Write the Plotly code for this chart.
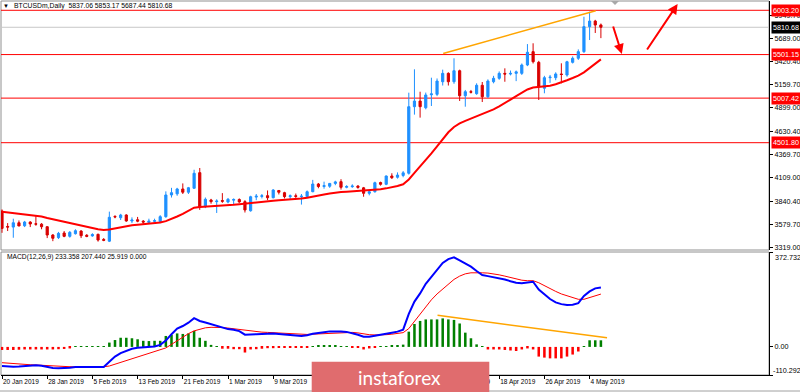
import pandas as pd
import plotly.graph_objects as go

# ---------------- data ----------------
symbol_header = "BTCUSDm,Daily  5837.06 5853.17 5687.44 5810.68"
macd_header = "MACD(12,26,9) 233.358 207.440 25.919 0.000"
start_date = "2019-01-20"

opens = [3727, 3552, 3545, 3594, 3560, 3602, 3582, 3578, 3549, 3455,
         3425, 3478, 3440, 3470, 3500, 3452, 3445, 3463, 3405, 3385,
         3665, 3651, 3682, 3614, 3628, 3612, 3598, 3610, 3606, 3663,
         3909, 3922, 3977, 3940, 3985, 4162, 3776, 3852, 3833, 3845,
         3829, 3850, 3858, 3833, 3730, 3885, 3893, 3901, 3878, 3960,
         3935, 3890, 3900, 3888, 3890, 3946, 4033, 4005, 4008, 4040,
         4060, 3996, 4003, 4010, 3990, 3928, 3946, 4050, 4030, 4124,
         4110, 4130, 4155, 4910, 4974, 4898, 5045, 5050, 5193, 5288,
         5193, 5318, 5034, 5080, 5058, 5153, 5023, 5193, 5232, 5288,
         5280, 5288, 5288, 5383, 5534, 5413, 5119, 5239, 5239, 5281,
         5269, 5413, 5459, 5534, 5818, 5881, 5837.06]
highs = [3745, 3590, 3640, 3620, 3615, 3612, 3670, 3590, 3555, 3465,
         3490, 3500, 3500, 3520, 3510, 3465, 3475, 3470, 3420, 3720,
         3680, 3695, 3690, 3655, 3660, 3625, 3640, 3640, 3680, 3950,
         3990, 3990, 4040, 4000, 4195, 4215, 3880, 3865, 3860, 3930,
         3875, 3870, 3870, 3850, 3900, 3920, 3920, 3960, 3975, 3965,
         3945, 3915, 3925, 3920, 3960, 4080, 4045, 4060, 4045, 4070,
         4088, 4020, 4030, 4020, 4000, 3960, 4060, 4060, 4130, 4155,
         4165, 4180, 5069, 5334, 5080, 5070, 5239, 5230, 5330, 5300,
         5459, 5330, 5100, 5100, 5175, 5190, 5220, 5260, 5310, 5345,
         5320, 5320, 5400, 5620, 5629, 5430, 5260, 5270, 5300, 5402,
         5430, 5480, 5560, 5930, 5987, 5895, 5853.17]
lows = [3480, 3500, 3424, 3560, 3545, 3545, 3560, 3520, 3420, 3385,
        3410, 3430, 3425, 3460, 3420, 3430, 3435, 3380, 3385, 3375,
        3645, 3625, 3605, 3590, 3600, 3580, 3585, 3600, 3590, 3650,
        3880, 3900, 3920, 3920, 3980, 3740, 3760, 3810, 3705, 3820,
        3815, 3805, 3820, 3710, 3720, 3850, 3870, 3850, 3870, 3915,
        3870, 3860, 3875, 3800, 3880, 3940, 3985, 3980, 3990, 4020,
        3970, 3985, 3990, 3980, 3889, 3905, 3935, 4015, 4020, 4090,
        4095, 4110, 4140, 4820, 4786, 4880, 4918, 5030, 5150, 5150,
        5170, 4975, 4910, 5060, 5045, 4963, 5010, 5175, 5215, 5193,
        5265, 5200, 5270, 5370, 5400, 4986, 5062, 5180, 5210, 5175,
        5250, 5400, 5440, 5520, 5666, 5746, 5687.44]
closes = [3530, 3545, 3594, 3557, 3602, 3580, 3578, 3549, 3455, 3418,
          3474, 3440, 3485, 3504, 3447, 3440, 3460, 3398, 3395, 3656,
          3660, 3682, 3614, 3625, 3612, 3602, 3613, 3618, 3663, 3909,
          3935, 3977, 3940, 3991, 4155, 3769, 3860, 3833, 3840, 3838,
          3860, 3858, 3830, 3739, 3889, 3895, 3900, 3878, 3965, 3940,
          3890, 3900, 3893, 3895, 3946, 4033, 4005, 4015, 4040, 4057,
          3996, 4005, 4010, 3995, 3928, 3945, 4048, 4030, 4124, 4105,
          4135, 4160, 4910, 4974, 4910, 5043, 5055, 5201, 5288, 5193,
          5318, 5034, 5080, 5075, 5153, 5023, 5201, 5232, 5288, 5280,
          5288, 5305, 5383, 5527, 5420, 5137, 5239, 5245, 5281, 5275,
          5420, 5459, 5534, 5818, 5881, 5836, 5810.68]
moving_avg = [3719, 3712, 3706, 3700, 3693, 3685, 3677, 3665, 3648, 3635,
              3620, 3605, 3592, 3580, 3565, 3550, 3535, 3520, 3512, 3518,
              3530, 3545, 3558, 3566, 3572, 3577, 3582, 3587, 3596, 3612,
              3635, 3665, 3695, 3730, 3765, 3772, 3776, 3778, 3780, 3783,
              3790, 3797, 3805, 3812, 3822, 3828, 3833, 3838, 3843, 3848,
              3852, 3855, 3860, 3868, 3878, 3892, 3905, 3915, 3925, 3935,
              3942, 3946, 3950, 3953, 3957, 3962, 3968, 3975, 3984, 3995,
              4010, 4030, 4085, 4160, 4230, 4300, 4380, 4460, 4545, 4620,
              4680, 4720, 4750, 4775, 4800, 4825, 4850, 4880, 4915, 4950,
              4990, 5030, 5070, 5105, 5128, 5137, 5142, 5147, 5165, 5185,
              5210, 5235, 5262, 5300, 5350, 5405, 5447]
macd_main = [-75, -77, -78, -77, -76, -74, -72, -74, -80, -83,
             -84, -84, -82, -79, -79, -79, -78, -78, -79, -58,
             -38, -24, -15, -7, -3, -1, 0, 2, 8, 25,
             50, 72, 82, 95, 113, 102, 96, 89, 82, 74,
             70, 67, 62, 48, 48, 50, 51, 52, 53, 51,
             48, 46, 45, 43, 46, 52, 56, 58, 61, 62,
             61, 59, 55, 48, 40, 40, 44, 47, 52, 56,
             60, 68, 130, 178, 210, 248, 275, 305, 330, 345,
             352, 340, 328, 315, 298, 282, 278, 274, 270, 265,
             258, 252, 250, 252, 256, 225, 205, 188, 175, 168,
             165, 166, 172, 200, 218, 230, 233.358]
macd_signal = [-62, -64, -66, -68, -69, -70, -71, -72, -74, -76,
               -78, -79, -80, -80, -80, -79, -79, -79, -78, -75,
               -68, -60, -52, -44, -37, -30, -24, -18, -12, -4,
               10, 25, 40, 52, 63, 70, 75, 77, 77, 76,
               74, 71, 69, 65, 62, 60, 58, 57, 56, 54,
               52, 51, 50, 49, 49, 50, 51, 52, 54, 55,
               57, 57, 57, 55, 51, 48, 47, 47, 48, 50,
               52, 56, 72, 100, 130, 158, 185, 208, 228, 248,
               265, 278, 287, 291, 292, 291, 290, 287, 283, 278,
               272, 266, 262, 260, 260, 252, 240, 228, 218, 208,
               200, 193, 187, 187, 193, 202, 207.44]
macd_hist = [-12, -12, -12, -11, -10, -10, -10, -10, -10, -10,
             -9, -8, -6, 2, 2, 2, 2, 2, 2, 17,
             27, 36, 36, 34, 30, 24, 23, 24, 24, 43,
             47, 53, 51, 53, 63, 36, 24, 8, 2, -7,
             -7, -9, -9, -22, -10, -9, -7, -5, -5, -3,
             -3, -3, -3, -2, -2, 3, 4, 4, 5, 7,
             3, 2, -2, -3, -10, -6, -4, 2, 3, 4,
             5, 9, 60, 90, 102, 108, 108, 108, 112, 108,
             106, 92, 56, 34, 10, 2, -10, -10, -10, -12,
             -14, -16, -10, -6, -10, -38, -42, -45, -45, -45,
             -38, -30, -18, 3, 26, 26, 25.919]

tick_dates = ["2019-01-20", "2019-01-28", "2019-02-05", "2019-02-13", "2019-02-21",
              "2019-03-01", "2019-03-09", "2019-03-17", "2019-03-25", "2019-04-02",
              "2019-04-10", "2019-04-18", "2019-04-26", "2019-05-04"]
tick_labels = ["20 Jan 2019", "28 Jan 2019", "5 Feb 2019", "13 Feb 2019", "21 Feb 2019",
               "1 Mar 2019", "9 Mar 2019", "17 Mar 2019", "25 Mar 2019", "2 Apr 2019",
               "10 Apr 2019", "18 Apr 2019", "26 Apr 2019", "4 May 2019"]
price_ticks = [5949.70, 5689.00, 5420.40, 5159.70, 4899.00, 4630.40,
               4369.70, 4109.00, 3840.40, 3579.70, 3319.00]
level_lines = [6003.20, 5501.15, 5007.42, 4501.80]
macd_max = 372.732
macd_min = -110.292

trend_price_x = ["2019-04-08 02:00", "2019-05-05 02:00"]
trend_price_y = [5513, 5999]
trend_macd_x = ["2019-04-07 02:00", "2019-05-07 02:00"]
trend_macd_y = [124, 36]
arrow_down_x = ["2019-05-08 02:00", "2019-05-09 17:00"]
arrow_down_y = [5836, 5508]
arrow_up_x = ["2019-05-14 00:00", "2019-05-19 14:00"]
arrow_up_y = [5542, 6075]

# ---------------- layout helpers ----------------
W, H = 800, 392
FONT = "Liberation Sans, Arial, sans-serif"


def px(x):
    return x / W


def py(y):
    return 1 - y / H


dates = pd.date_range(start_date, periods=len(closes), freq="D")
t0 = pd.Timestamp(start_date)
bar_px = 5.65
x_left = t0 - pd.Timedelta(days=1 / bar_px)
x_right = t0 + pd.Timedelta(days=(769 - 2) / bar_px)

fig = go.Figure()
fig.add_trace(go.Candlestick(
    x=dates, open=opens, high=highs, low=lows, close=closes,
    increasing=dict(line=dict(color="#1E90FF", width=1), fillcolor="#1E90FF"),
    decreasing=dict(line=dict(color="#D80000", width=1), fillcolor="#D80000"),
    whiskerwidth=0, xaxis="x", yaxis="y", showlegend=False, hoverinfo="skip"))
fig.add_trace(go.Scatter(x=dates, y=moving_avg, mode="lines",
                         line=dict(color="#FF0000", width=2),
                         xaxis="x", yaxis="y", hoverinfo="skip"))
fig.add_trace(go.Bar(x=dates, y=macd_hist,
                     marker=dict(color=["#008000" if v > 0 else "#FF0000" for v in macd_hist],
                                 line=dict(width=0)),
                     width=0.45 * 86400000, xaxis="x", yaxis="y2", hoverinfo="skip"))
fig.add_trace(go.Scatter(x=dates, y=macd_signal, mode="lines",
                         line=dict(color="#FF0000", width=1),
                         xaxis="x", yaxis="y2", hoverinfo="skip"))
fig.add_trace(go.Scatter(x=dates, y=macd_main, mode="lines",
                         line=dict(color="#0000FF", width=2),
                         xaxis="x", yaxis="y2", hoverinfo="skip"))

price_dom = [py(250), py(1)]
macd_dom = [py(375), py(252)]
x_dom = [px(1), px(769)]

shapes = []
# panel frames
shapes.append(dict(type="rect", xref="paper", yref="paper", x0=x_dom[0], x1=x_dom[1],
                   y0=price_dom[0], y1=price_dom[1], line=dict(color="#909090", width=1), layer="below"))
shapes.append(dict(type="rect", xref="paper", yref="paper", x0=x_dom[0], x1=x_dom[1],
                   y0=macd_dom[0], y1=macd_dom[1], line=dict(color="#909090", width=1), layer="below"))
# level lines
for lv in level_lines:
    shapes.append(dict(type="line", xref="paper", yref="y", x0=x_dom[0], x1=x_dom[1],
                       y0=lv, y1=lv, line=dict(color="#FF0000", width=1), layer="below"))
# bid line
shapes.append(dict(type="line", xref="paper", yref="y", x0=x_dom[0], x1=x_dom[1],
                   y0=closes[-1], y1=closes[-1], line=dict(color="#C8C8C8", width=1), layer="below"))
# trend lines
shapes.append(dict(type="line", xref="x", yref="y", x0=trend_price_x[0], x1=trend_price_x[1],
                   y0=trend_price_y[0], y1=trend_price_y[1], line=dict(color="#FFA500", width=1.5)))
shapes.append(dict(type="line", xref="x", yref="y2", x0=trend_macd_x[0], x1=trend_macd_x[1],
                   y0=trend_macd_y[0], y1=trend_macd_y[1], line=dict(color="#FFA500", width=1.5)))
# chart shift marker
shapes.append(dict(type="path", xref="paper", yref="paper",
                   path=f"M {px(611)},{py(1)} L {px(619)},{py(1)} L {px(615)},{py(5)} Z",
                   fillcolor="#A8A8A8", line=dict(width=0)))
# bottom border line
shapes.append(dict(type="line", xref="paper", yref="paper", x0=0, x1=1, y0=py(391), y1=py(391),
                   line=dict(color="#A0A0A0", width=1)))
# logo box
shapes.append(dict(type="rect", xref="paper", yref="paper", x0=px(311.7), x1=px(489.3),
                   y0=py(392), y1=py(361.7), fillcolor="#E06C6E", line=dict(width=0), layer="above"))

ann = []
ann.append(dict(text="▼", xref="paper", yref="paper", x=px(6), y=py(6), showarrow=False,
                font=dict(family=FONT, size=6, color="black"), xanchor="center", yanchor="middle"))
ann.append(dict(text=symbol_header, xref="paper", yref="paper", x=px(12), y=py(6), showarrow=False,
                font=dict(family=FONT, size=6.8, color="black"), xanchor="left", yanchor="middle"))
ann.append(dict(text=macd_header, xref="paper", yref="paper", x=px(5), y=py(257), showarrow=False,
                font=dict(family=FONT, size=6.7, color="black"), xanchor="left", yanchor="middle"))
for lv in level_lines:
    ann.append(dict(text=f"{lv:.2f}", xref="paper", yref="y", x=px(770.5), y=lv, showarrow=False,
                    font=dict(family=FONT, size=7.2, color="white"), bgcolor="#FF0000",
                    borderpad=1, xanchor="left", yanchor="middle"))
ann.append(dict(text=f"{closes[-1]:.2f}", xref="paper", yref="y", x=px(770.5), y=closes[-1],
                showarrow=False, font=dict(family=FONT, size=7.2, color="white"), bgcolor="#000000",
                borderpad=1, xanchor="left", yanchor="middle"))
ann.append(dict(text=f"{macd_max:.3f}", xref="paper", yref="paper", x=px(773), y=py(257),
                showarrow=False, font=dict(family=FONT, size=7.2, color="black"),
                xanchor="left", yanchor="middle"))
ann.append(dict(text=f"{macd_min:.3f}", xref="paper", yref="paper", x=px(771), y=py(370),
                showarrow=False, font=dict(family=FONT, size=7.2, color="black"),
                xanchor="left", yanchor="middle"))
ann.append(dict(text="instaforex", xref="paper", yref="paper", x=px(399), y=py(377.5),
                showarrow=False, font=dict(family="Lato, Open Sans, sans-serif", size=19, color="white"),
                xanchor="center", yanchor="middle"))
for ax_, ay_ in [(arrow_down_x, arrow_down_y), (arrow_up_x, arrow_up_y)]:
    ann.append(dict(text="", x=ax_[1], y=ay_[1], xref="x", yref="y",
                    ax=ax_[0], ay=ay_[0], axref="x", ayref="y", showarrow=True,
                    arrowhead=2, arrowsize=1, arrowwidth=2, arrowcolor="#FF0000", standoff=0))

fig.update_layout(
    width=W, height=H, margin=dict(l=0, r=0, t=0, b=0, autoexpand=False),
    paper_bgcolor="white", plot_bgcolor="white", showlegend=False,
    boxgap=0.45,
    xaxis=dict(domain=x_dom, anchor="y2", type="date", range=[x_left, x_right],
               tickmode="array", tickvals=tick_dates, ticktext=tick_labels, tickangle=0,
               ticks="outside", ticklen=3, tickcolor="black", ticklabelposition="outside right",
               tickfont=dict(family=FONT, size=6.5, color="black"), automargin=False,
               showgrid=False, zeroline=False, showline=True, linecolor="black", linewidth=1,
               rangeslider=dict(visible=False), fixedrange=True),
    yaxis=dict(domain=price_dom, anchor="x", side="right", range=[3285, 6108.6],
               tickmode="array", tickvals=price_ticks, ticktext=[f"{v:.2f}" for v in price_ticks],
               ticks="outside", ticklen=3, tickcolor="black", automargin=False,
               tickfont=dict(family=FONT, size=7.2, color="black"),
               showgrid=False, zeroline=False, showline=True, linecolor="black", linewidth=1),
    yaxis2=dict(domain=macd_dom, anchor="x", side="right", range=[macd_min, macd_max],
                tickmode="array", tickvals=[macd_max, 0, macd_min], ticktext=["", "0.00", ""],
                ticks="outside", ticklen=3, tickcolor="black", automargin=False,
                tickfont=dict(family=FONT, size=7.2, color="black"),
                showgrid=False, zeroline=False, showline=True, linecolor="black", linewidth=1),
    shapes=shapes, annotations=ann,
)

fig.write_html("out.html", config={"displayModeBar": False},
               post_script="document.body.style.margin='0px';document.body.style.overflow='hidden';")
